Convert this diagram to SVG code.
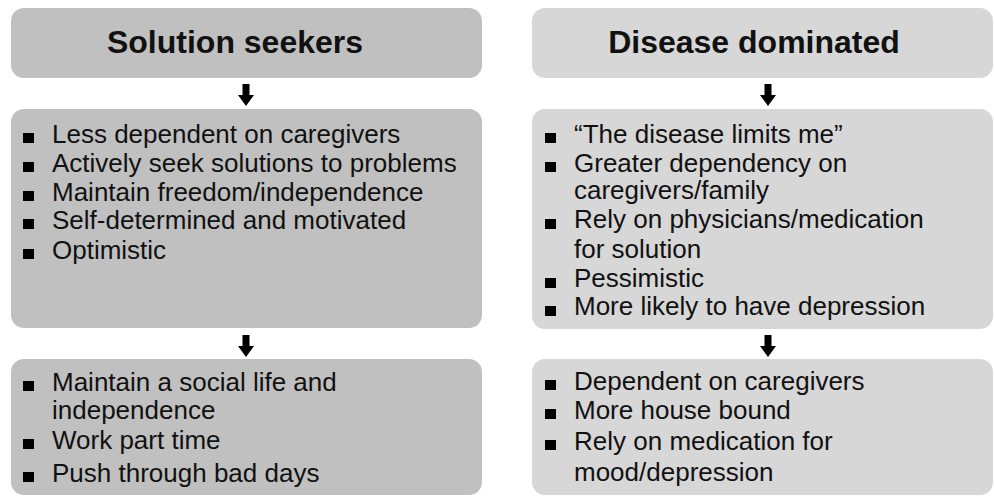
<svg xmlns="http://www.w3.org/2000/svg" width="994" height="497" viewBox="0 0 994 497">
<style>
.dark{fill:#c0c0c0}
.light{fill:#d7d7d7}
.hd{font-family:"Liberation Sans",Arial,sans-serif;font-weight:bold;font-size:32px;fill:#111;text-anchor:middle}
.tx{font-family:"Liberation Sans",Arial,sans-serif;font-size:26px;fill:#111}
.bl{fill:#000}
.arr{fill:#000}
</style>
<defs>
<path id="arrow" d="M-3.5,0 H3.5 V11 H8 L0,22 L-8,11 H-3.5 Z"/>
</defs>
<rect width="994" height="497" fill="#fff"/>
<g id="solution-seekers">
<rect class="dark" x="11" y="8" width="471" height="70" rx="13"/>
<text class="hd" x="235" y="53">Solution seekers</text>
</g>
<g id="disease-dominated">
<rect class="light" x="532" y="8" width="461" height="70" rx="13"/>
<text class="hd" x="754" y="53">Disease dominated</text>
</g>
<g id="solution-traits">
<rect class="dark" x="11" y="109" width="471" height="219" rx="13"/>
<rect class="bl" x="23" y="133" width="11" height="10"/>
<text class="tx" x="52" y="143">Less dependent on caregivers</text>
<rect class="bl" x="23" y="162" width="11" height="10"/>
<text class="tx" x="52" y="172">Actively seek solutions to problems</text>
<rect class="bl" x="23" y="191" width="11" height="10"/>
<text class="tx" x="52" y="201">Maintain freedom/independence</text>
<rect class="bl" x="23" y="219" width="11" height="10"/>
<text class="tx" x="52" y="229">Self-determined and motivated</text>
<rect class="bl" x="23" y="249" width="11" height="10"/>
<text class="tx" x="52" y="259">Optimistic</text>
</g>
<g id="disease-traits">
<rect class="light" x="532" y="109" width="461" height="220" rx="13"/>
<rect class="bl" x="545" y="133" width="11" height="10"/>
<text class="tx" x="574" y="143">“The disease limits me”</text>
<rect class="bl" x="545" y="162" width="11" height="10"/>
<text class="tx" x="574" y="172">Greater dependency on</text>
<text class="tx" x="574" y="199">caregivers/family</text>
<rect class="bl" x="545" y="219" width="11" height="10"/>
<text class="tx" x="574" y="228">Rely on physicians/medication</text>
<text class="tx" x="574" y="258">for solution</text>
<rect class="bl" x="545" y="278" width="11" height="10"/>
<text class="tx" x="574" y="287">Pessimistic</text>
<rect class="bl" x="545" y="306" width="11" height="10"/>
<text class="tx" x="574" y="315">More likely to have depression</text>
</g>
<g id="solution-outcomes">
<rect class="dark" x="11" y="359" width="471" height="136" rx="13"/>
<rect class="bl" x="23" y="381" width="11" height="10"/>
<text class="tx" x="52" y="391">Maintain a social life and</text>
<text class="tx" x="52" y="419">independence</text>
<rect class="bl" x="23" y="439" width="11" height="10"/>
<text class="tx" x="52" y="449">Work part time</text>
<rect class="bl" x="23" y="472" width="11" height="10"/>
<text class="tx" x="52" y="482">Push through bad days</text>
</g>
<g id="disease-outcomes">
<rect class="light" x="532" y="359" width="461" height="136" rx="13"/>
<rect class="bl" x="545" y="380" width="11" height="10"/>
<text class="tx" x="574" y="390">Dependent on caregivers</text>
<rect class="bl" x="545" y="409" width="11" height="10"/>
<text class="tx" x="574" y="419">More house bound</text>
<rect class="bl" x="545" y="440" width="11" height="10"/>
<text class="tx" x="574" y="450">Rely on medication for</text>
<text class="tx" x="574" y="481">mood/depression</text>
</g>
<g id="connectors">
<use href="#arrow" class="arr" x="246" y="84"/>
<use href="#arrow" class="arr" x="768" y="84"/>
<use href="#arrow" class="arr" x="246" y="335"/>
<use href="#arrow" class="arr" x="768" y="335"/>
</g>
</svg>
